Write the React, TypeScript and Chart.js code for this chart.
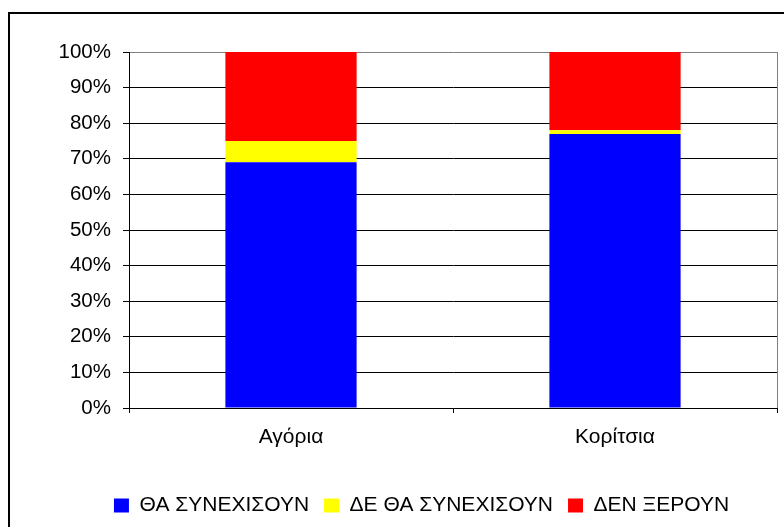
import React, { useEffect, useRef } from "react";
import { Chart, registerables } from "chart.js";

Chart.register(...registerables);

const categories = ["Αγόρια", "Κορίτσια"];
const seriesNames = ["ΘΑ ΣΥΝΕΧΙΣΟΥΝ", "ΔΕ ΘΑ ΣΥΝΕΧΙΣΟΥΝ", "ΔΕΝ ΞΕΡΟΥΝ"];
const willContinue = [69, 77];
const willNotContinue = [6, 1];
const dontKnow = [25, 22];
const seriesColors = ["#0000FF", "#FFFF00", "#FF0000"];
const yTicks = [0, 10, 20, 30, 40, 50, 60, 70, 80, 90, 100];

const W = 843;
const H = 527;
const FONT = "'Liberation Sans', Arial, sans-serif";

const framePlugin = {
  id: "frame",
  beforeDraw(chart: any) {
    const ctx = chart.ctx;
    ctx.save();
    ctx.fillStyle = "#000";
    ctx.fillRect(8, 12, chart.width, 2);
    ctx.fillRect(8, 12, 2, chart.height);
    ctx.restore();
  },
};

export default function App() {
  const ref = useRef<HTMLCanvasElement>(null);
  useEffect(() => {
    if (!ref.current) return;
    const values = [willContinue, willNotContinue, dontKnow];
    const chart = new Chart(ref.current, {
      type: "bar",
      data: {
        labels: categories,
        datasets: seriesNames.map((name, i) => ({
          label: name,
          data: values[i],
          backgroundColor: seriesColors[i],
          borderWidth: 0,
          yAxisID: "y",
          xAxisID: "x",
          categoryPercentage: 1,
          barPercentage: 0.405,
        })),
      },
      options: {
        responsive: false,
        animation: false,
        devicePixelRatio: 1,
        layout: { padding: { top: 52, left: 0, right: 0, bottom: 1 } },
        plugins: {
          tooltip: { enabled: false },
          title: { display: false },
          legend: {
            position: "bottom",
            labels: {
              font: { family: FONT, size: 21 },
              color: "#000",
              boxWidth: 15,
              boxHeight: 14,
              padding: 15,
            },
          },
        },
        scales: {
          y: {
            type: "linear",
            position: "left",
            stacked: true,
            min: 0,
            max: 100,
            afterBuildTicks: (s: any) => {
              s.ticks = yTicks.map((v) => ({ value: v }));
            },
            ticks: {
              callback: (v: any) => v + "%",
              font: { family: FONT, size: 20.5 },
              color: "#000",
              padding: 12,
            },
            grid: {
              color: (c: any) => (c.tick && c.tick.value === 100 ? "#808080" : "#000"),
              tickColor: "#000",
              tickLength: 6,
              lineWidth: 1,
            },
            border: { display: true, color: "#000", width: 1 },
            afterFit: (s: any) => {
              s.width = 129;
            },
          },
          yR: {
            type: "linear",
            position: "right",
            grid: { display: false },
            ticks: { display: false },
            border: { display: true, color: "#808080", width: 1 },
            afterFit: (s: any) => {
              s.width = W - 777;
            },
          },
          x: {
            stacked: true,
            offset: true,
            ticks: {
              font: { family: FONT, size: 21 },
              color: "#000",
              padding: 12,
            },
            grid: {
              offset: true,
              drawOnChartArea: false,
              drawTicks: true,
              tickLength: 5,
              color: "#000",
            },
            border: { display: true, color: "#000", width: 1 },
            afterFit: (s: any) => {
              s.height = 72;
            },
          },
        },
      },
      plugins: [framePlugin],
    } as any);
    return () => chart.destroy();
  }, []);
  return (
    <div style={{ position: "fixed", left: 0, top: 0, width: W, height: H }}>
      <canvas ref={ref} width={W} height={H} style={{ display: "block" }} />
    </div>
  );
}
